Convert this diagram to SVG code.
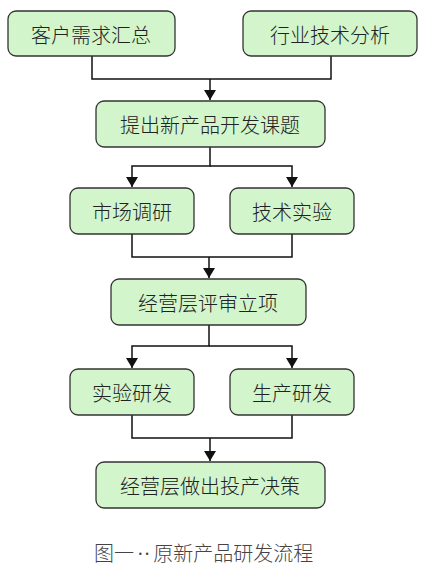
<svg xmlns="http://www.w3.org/2000/svg" width="425" height="573" viewBox="0 0 425 573">
<style>
.box{fill:#d2f5cc;stroke:#333;stroke-width:1.3}
.lbl{font-family:"Noto Sans CJK SC","Noto Sans",sans-serif;font-size:20px;font-weight:300;fill:#222;text-anchor:middle;dominant-baseline:central}
.ln{fill:none;stroke:#111;stroke-width:1.5}
.cap{font-family:"Noto Sans CJK SC","Noto Sans",sans-serif;font-size:20px;font-weight:300;fill:#444}
.dot{font-family:"Liberation Serif",serif}
</style>
<defs>
<marker id="ah" viewBox="0 0 10 12" refX="10" refY="6" markerWidth="10" markerHeight="12" markerUnits="userSpaceOnUse" orient="auto">
<path d="M0,0 L10,6 L0,12 Z" fill="#111"/>
</marker>
</defs>
<rect width="425" height="573" fill="#fff"/>
<g id="connectors">
<path class="ln" d="M92,56 V79 H331 V56"/>
<path class="ln" d="M210,79 V100" marker-end="url(#ah)"/>
<path class="ln" d="M210,147 V166 H132 V187" marker-end="url(#ah)"/>
<path class="ln" d="M210,166 H292 V187" marker-end="url(#ah)"/>
<path class="ln" d="M132,234 V257 H292 V234"/>
<path class="ln" d="M209,257 V278" marker-end="url(#ah)"/>
<path class="ln" d="M209,325 V346 H132 V368" marker-end="url(#ah)"/>
<path class="ln" d="M209,346 H292 V368" marker-end="url(#ah)"/>
<path class="ln" d="M132,415 V438 H292 V415"/>
<path class="ln" d="M210,438 V461" marker-end="url(#ah)"/>
</g>
<g id="n1"><rect class="box" x="8" y="11" width="167" height="45" rx="8"/><text class="lbl" x="91" y="34">客户需求汇总</text></g>
<g id="n2"><rect class="box" x="243" y="11" width="174" height="45" rx="8"/><text class="lbl" x="330" y="34">行业技术分析</text></g>
<g id="n3"><rect class="box" x="96" y="101" width="229" height="46" rx="8"/><text class="lbl" x="210" y="124">提出新产品开发课题</text></g>
<g id="n4"><rect class="box" x="70" y="188" width="124" height="46" rx="8"/><text class="lbl" x="132" y="211">市场调研</text></g>
<g id="n5"><rect class="box" x="230" y="188" width="124" height="46" rx="8"/><text class="lbl" x="292" y="211">技术实验</text></g>
<g id="n6"><rect class="box" x="111" y="279" width="195" height="46" rx="8"/><text class="lbl" x="208" y="302">经营层评审立项</text></g>
<g id="n7"><rect class="box" x="70" y="369" width="124" height="46" rx="8"/><text class="lbl" x="132" y="392">实验研发</text></g>
<g id="n8"><rect class="box" x="230" y="369" width="124" height="46" rx="8"/><text class="lbl" x="292" y="392">生产研发</text></g>
<g id="n9"><rect class="box" x="96" y="462" width="229" height="46" rx="8"/><text class="lbl" x="210" y="485">经营层做出投产决策</text></g>
<text class="cap" x="94" y="561">图一<tspan class="dot" dx="3">··</tspan><tspan dx="3">原新产品研发流程</tspan></text>
</svg>
